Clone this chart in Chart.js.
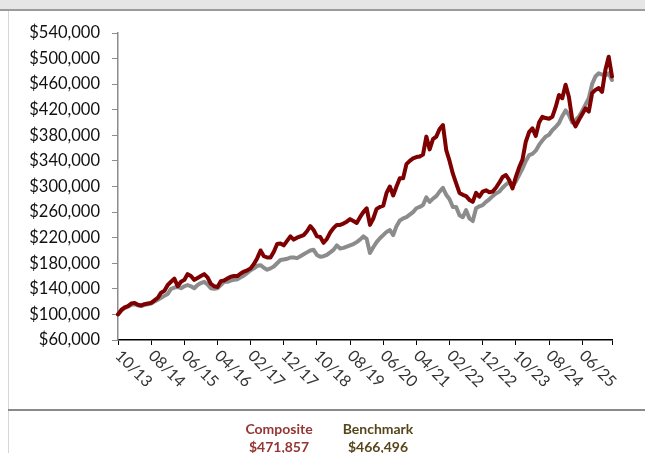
<!DOCTYPE html>
<html>
<head>
<meta charset="utf-8">
<script src="https://cdn.jsdelivr.net/npm/chart.js@4.4.1/dist/chart.umd.min.js"></script>
<style>
  html, body { margin: 0; padding: 0; background: #fff; }
  #wrap { position: relative; width: 645px; height: 453px; overflow: hidden; font-family: Lato, sans-serif; }
  .band { position: absolute; left: 0; top: 0; width: 645px; height: 9px; background: #e6e6e6; border-bottom: 2px solid #9b9b9b; }
  .lborder { position: absolute; left: 8px; top: 11px; width: 1px; height: 442px; background: #d6d6d6; }
  .sep { position: absolute; left: 8px; top: 409px; width: 637px; height: 2px; background: #8a8a8a; }
  canvas { position: absolute; left: 0; top: 0; }
  .leg { position: absolute; top: 420px; width: 110px; text-align: center; font-weight: bold; font-size: 14px; line-height: 18px; }
</style>
</head>
<body>
<div id="wrap">
  <div class="band"></div>
  <div class="lborder"></div>
  <div class="sep"></div>
  <canvas id="growth-chart" width="645" height="453"></canvas>
  <div class="leg" id="leg-comp" style="left:224px; color:#943634;"></div>
  <div class="leg" id="leg-bench" style="left:323px; color:#56461a;"></div>
</div>
<script>
// growth of $100,000, in thousands, monthly from 10/13
const composite = [
    100, 107, 111, 113, 117, 118, 115, 114, 116, 117,
    118, 122, 126, 134, 137, 146, 151, 156, 144, 151,
    154, 163, 160, 154, 157, 160, 163, 158, 148, 144,
    143, 152, 153, 156, 159, 160, 160, 164, 167, 169,
    172, 179, 188, 200, 191, 189, 189, 198, 210, 211,
    208, 215, 222, 217, 220, 222, 224, 230, 238, 232,
    222, 221, 212, 218, 228, 235, 240, 240, 242, 245,
    249, 246, 243, 252, 260, 266, 240, 250, 265, 268,
    270, 290, 300, 286, 300, 313, 313, 335, 340, 344,
    346, 347, 350, 378, 358, 374, 378, 390, 396, 357,
    340, 320, 305, 290, 287, 285, 279, 276, 290, 284,
    292, 294, 291, 292, 298, 306, 315, 318, 310, 297,
    315, 330, 342, 370, 385, 391, 379, 400, 409, 407,
    406, 409, 424, 443, 438, 459, 440, 405, 394, 404,
    413, 422, 417, 446, 451, 454, 448, 482, 503, 471.857
];
const benchmark = [
    100, 106, 110, 112, 115, 116, 114, 113, 115, 116,
    117, 120, 123, 126, 129, 132, 140, 142, 143, 141,
    144, 146, 144, 141, 146, 149, 151, 147, 141, 140,
    141, 146, 151, 151, 153, 154, 155, 158, 161, 165,
    169, 172, 176, 177, 173, 170, 172, 175, 180, 185,
    186, 187, 189, 189, 188, 191, 194, 197, 200, 201,
    193, 190, 191, 193, 197, 201, 208, 203, 204, 206,
    208, 210, 213, 217, 222, 218, 196, 205, 213, 219,
    224, 229, 232, 224, 238, 247, 250, 252, 256, 260,
    266, 268, 271, 283, 276, 281, 285, 292, 298, 287,
    280, 268, 268, 255, 252, 263, 250, 246, 266, 269,
    271, 276, 280, 285, 289, 292, 298, 303, 307, 300,
    308, 318, 328, 340, 349, 351, 356, 365, 372, 378,
    381, 388, 393, 399, 410, 419, 412, 400, 404, 409,
    418, 428, 438, 460, 472, 477, 475, 474, 477, 466.496
];
// one label every 10 months
const tickLabels = ['10/13', '08/14', '06/15', '04/16', '02/17', '12/17', '10/18', '08/19',
    '06/20', '04/21', '02/22', '12/22', '10/23', '08/24', '06/25'];
const seriesNames = ['Composite', 'Benchmark'];
const finalValues = ['$471,857', '$466,496'];

// month categories (mm/yy)
const months = [];
for (let k = 0; k < composite.length; k++) {
    const m = (9 + k) % 12 + 1;
    const y = 13 + Math.floor((9 + k) / 12);
    months.push(String(m).padStart(2, '0') + '/' + y);
}

const fmt = v => '$' + Math.round(v).toLocaleString('en-US');

// rotated x labels, text running down to the right from each tick
const xLabelPlugin = {
    id: 'xLabels',
    afterDraw(chart) {
        const sc = chart.scales.x;
        const ctx = chart.ctx;
        ctx.save();
        ctx.font = '16px Lato';
        ctx.fillStyle = '#333';
        ctx.textAlign = 'left';
        ctx.textBaseline = 'middle';
        tickLabels.forEach((lab, n) => {
            const x = sc.getPixelForValue(n * 10);
            ctx.save();
            ctx.translate(x, sc.top + 13);
            ctx.rotate(Math.PI / 4);
            ctx.fillText(lab, 0, 0);
            ctx.restore();
        });
        ctx.restore();
    }
};

document.getElementById('leg-comp').innerHTML = seriesNames[0] + '<br>' + finalValues[0];
document.getElementById('leg-bench').innerHTML = seriesNames[1] + '<br>' + finalValues[1];

const growthChart = new Chart(document.getElementById('growth-chart').getContext('2d'), {
    type: 'line',
    data: {
        labels: months,
        datasets: [{
            label: seriesNames[0],
            data: composite.map(v => v * 1000),
            borderColor: '#7f0000',
            borderWidth: 4
        }, {
            label: seriesNames[1],
            data: benchmark.map(v => v * 1000),
            borderColor: '#8c8c8c',
            borderWidth: 4
        }]
    },
    options: {
        responsive: false,
        animation: false,
        devicePixelRatio: 1,
        layout: { padding: { left: 8, top: 33, right: 33, bottom: 43 } },
        plugins: {
            legend: { display: false },
            tooltip: { enabled: false }
        },
        elements: {
            point: { radius: 0 },
            line: { tension: 0, borderJoinStyle: 'round', borderCapStyle: 'round' }
        },
        scales: {
            x: {
                offset: false,
                grid: {
                    drawOnChartArea: false,
                    drawTicks: true,
                    tickLength: 5,
                    color: c => (c.index % 10 === 0 || c.index === months.length - 1) ? '#000' : 'rgba(0,0,0,0)'
                },
                border: { color: '#000', width: 1.5 },
                ticks: { display: false, autoSkip: false, maxRotation: 0 },
                afterFit: s => { s.height = 70; }
            },
            y: {
                min: 60000,
                max: 540000,
                grid: { drawOnChartArea: false, drawTicks: true, tickLength: 6, color: '#8c8c8c' },
                border: { color: '#8c8c8c', width: 1.5 },
                ticks: {
                    stepSize: 40000,
                    padding: 12,
                    color: '#111',
                    font: { family: 'Lato', size: 16.5 },
                    callback: v => fmt(v)
                },
                afterFit: s => { s.width = 110; }
            }
        }
    },
    plugins: [xLabelPlugin]
});
</script>
</body>
</html>
